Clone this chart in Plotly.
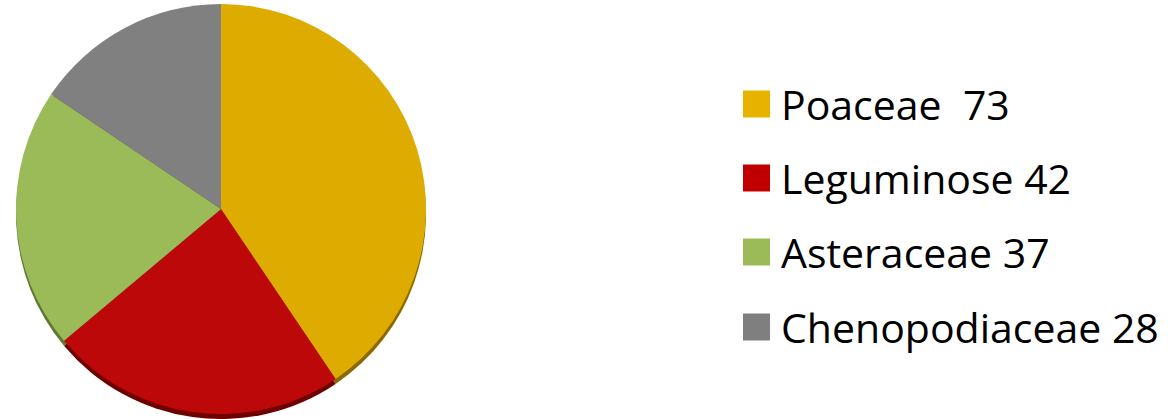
import plotly.graph_objects as go

labels = ["Poaceae", "Leguminose", "Asteraceae", "Chenopodiaceae"]
values = [73, 42, 37, 28]
legend_text = ["Poaceae&nbsp;&nbsp;73", "Leguminose 42", "Asteraceae 37", "Chenopodiaceae 28"]
colors = ["#DEAB00", "#BC0808", "#9BBB59", "#808080"]
edge_colors = ["#8A6A00", "#6E0000", "#5E7A30", "#4A4A4A"]
key_colors = ["#E8B200", "#C00000", "#9BBB59", "#7F7F7F"]

W, H = 1174, 419

fig = go.Figure()

# darker "edge" pie underneath, slightly offset down to mimic the 3D rim
fig.add_trace(go.Pie(
    labels=labels, values=values, sort=False, direction="clockwise", rotation=0,
    marker=dict(colors=edge_colors, line=dict(width=0)),
    textinfo="none", hoverinfo="skip", showlegend=False,
    domain=dict(x=[15 / W, 427 / W], y=[(H - 419) / H, (H - 9) / H]),
))
fig.add_trace(go.Pie(
    labels=labels, values=values, sort=False, direction="clockwise", rotation=0,
    marker=dict(colors=colors, line=dict(width=0)),
    textinfo="none", showlegend=False,
    domain=dict(x=[15 / W, 427 / W], y=[(H - 414) / H, (H - 4) / H]),
))

row_y = [104, 178, 252, 327]
key_x0, key_size, text_x = 743, 27, 779
for i, t in enumerate(legend_text):
    yc = row_y[i]
    fig.add_shape(type="rect", xref="paper", yref="paper",
                  x0=key_x0 / W, x1=(key_x0 + key_size) / W,
                  y0=1 - (yc + key_size / 2) / H, y1=1 - (yc - key_size / 2) / H,
                  fillcolor=key_colors[i], line=dict(width=0))
    fig.add_annotation(xref="paper", yref="paper", x=text_x / W, y=1 - yc / H,
                       xanchor="left", yanchor="middle", text=t, showarrow=False,
                       font=dict(family="Open Sans", size=41, color="#000000"))

fig.update_layout(
    width=W, height=H, margin=dict(l=0, r=0, t=0, b=0),
    paper_bgcolor="white", plot_bgcolor="white", showlegend=False,
)

fig.write_html("out.html")
